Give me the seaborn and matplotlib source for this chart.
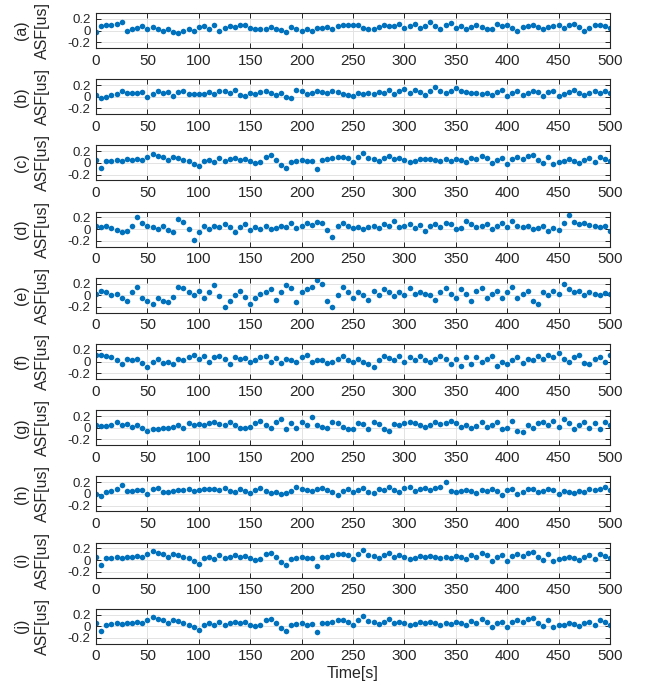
import numpy as np
import pandas as pd
import matplotlib
matplotlib.use("Agg")
import matplotlib.pyplot as plt
import seaborn as sns

# time axis, one reading every 5 s
time_s = list(range(0, 505, 5))

asf_a = [-0.02, 0.08, 0.10, 0.10, 0.12, 0.15, 0.00, 0.02, 0.05, 0.08,
         0.03, 0.06, 0.03, 0.00, 0.03, -0.03, -0.05, 0.00, 0.03, 0.00,
         0.06, 0.08, 0.03, 0.10, 0.00, 0.05, 0.07, 0.06, 0.10, 0.10,
         0.04, 0.02, 0.02, 0.03, 0.06, 0.03, 0.01, -0.02, 0.06, 0.02,
         0.00, 0.03, 0.00, 0.04, 0.04, 0.06, 0.03, 0.08, 0.10, 0.10,
         0.09, 0.09, 0.04, 0.03, 0.02, 0.06, 0.09, 0.07, 0.08, 0.12,
         0.05, 0.08, 0.12, 0.05, 0.08, 0.14, 0.07, 0.03, 0.09, 0.13,
         0.05, 0.07, 0.02, 0.06, 0.10, 0.06, 0.03, 0.02, 0.11, 0.08,
         0.10, 0.05, 0.00, 0.06, 0.07, 0.09, 0.06, 0.03, 0.06, 0.08,
         0.09, 0.05, 0.10, 0.12, 0.06, 0.00, 0.05, 0.09, 0.10, 0.07,
         0.05]

asf_b = [0.03, -0.03, 0.00, 0.03, 0.05, 0.10, 0.06, 0.06, 0.07, 0.08,
         0.00, 0.05, 0.10, 0.06, 0.08, 0.02, 0.08, 0.10, 0.05, 0.04,
         0.04, 0.05, 0.08, 0.04, 0.09, 0.10, 0.07, 0.12, 0.03, 0.02,
         0.06, 0.05, 0.08, 0.10, 0.06, 0.03, 0.07, 0.00, -0.02, 0.12,
         0.10, 0.05, 0.07, 0.10, 0.08, 0.07, 0.10, 0.08, 0.05, 0.03,
         0.02, 0.06, 0.05, 0.07, 0.04, 0.08, 0.06, 0.11, 0.05, 0.10,
         0.13, 0.06, 0.12, 0.08, 0.03, 0.10, 0.16, 0.10, 0.06, 0.09,
         0.15, 0.10, 0.08, 0.07, 0.06, 0.04, 0.07, 0.03, 0.08, 0.11,
         0.02, 0.06, 0.10, 0.03, 0.07, 0.10, 0.08, 0.02, 0.08, 0.10,
         0.02, 0.04, 0.08, 0.12, 0.07, 0.03, 0.07, 0.09, 0.06, 0.09,
         0.06]

asf_c = [0.05, -0.08, 0.03, 0.04, 0.05, 0.04, 0.06, 0.05, 0.07, 0.05,
         0.10, 0.16, 0.12, 0.10, 0.05, 0.10, 0.09, 0.05, 0.03, -0.02,
         -0.06, 0.03, 0.05, 0.02, 0.08, 0.03, 0.06, 0.08, 0.05, 0.07,
         0.03, 0.00, 0.02, 0.10, 0.13, 0.05, -0.03, -0.08, 0.02, 0.04,
         0.05, 0.03, 0.04, -0.10, 0.05, 0.06, 0.08, 0.10, 0.10, 0.08,
         0.02, 0.10, 0.17, 0.09, 0.07, 0.04, 0.08, 0.12, 0.06, 0.08,
         0.05, 0.02, 0.04, 0.07, 0.06, 0.07, 0.05, 0.03, 0.06, 0.04,
         0.07, 0.05, 0.02, 0.09, 0.06, 0.12, 0.08, -0.01, 0.05, 0.08,
         -0.02, 0.07, 0.10, 0.07, 0.12, 0.14, 0.05, 0.00, 0.10, -0.02,
         0.02, 0.03, 0.06, 0.04, 0.00, 0.05, 0.08, 0.02, 0.10, 0.07,
         0.03]

asf_d = [0.05, 0.03, 0.05, 0.02, -0.01, -0.05, -0.04, 0.05, 0.20, 0.10,
         0.05, 0.04, 0.00, 0.05, -0.02, -0.05, 0.18, 0.12, 0.00, -0.18,
         -0.05, 0.05, 0.00, 0.06, 0.03, 0.08, 0.04, -0.05, 0.03, 0.08,
         -0.02, 0.03, 0.00, 0.06, 0.00, 0.02, 0.05, 0.03, 0.10, 0.02,
         0.05, 0.10, 0.07, 0.12, 0.10, -0.02, -0.13, 0.05, 0.10, 0.05,
         0.02, 0.04, 0.00, 0.03, 0.05, 0.02, 0.08, 0.05, 0.14, 0.03,
         0.05, 0.09, 0.02, 0.07, -0.04, 0.05, 0.08, 0.04, 0.10, 0.08,
         0.00, 0.02, 0.14, 0.08, 0.04, 0.06, 0.09, 0.00, 0.05, 0.10,
         0.03, 0.14, 0.05, 0.04, 0.06, 0.00, 0.02, 0.05, -0.04, 0.02,
         -0.02, 0.10, 0.25, 0.12, 0.08, 0.10, 0.07, 0.05, 0.03, 0.06,
         -0.03]

asf_e = [0.03, 0.08, 0.05, 0.00, 0.03, -0.05, -0.10, 0.05, 0.15, -0.05,
         -0.10, -0.15, -0.05, -0.10, -0.12, -0.03, 0.15, 0.12, 0.05, 0.00,
         0.08, -0.05, 0.05, 0.18, -0.02, -0.20, -0.10, 0.00, 0.07, -0.03,
         -0.15, -0.05, 0.03, 0.06, 0.10, -0.08, 0.05, 0.18, 0.12, -0.12,
         0.05, 0.10, 0.15, 0.27, 0.20, -0.10, -0.20, 0.00, 0.15, 0.05,
         -0.05, 0.05, 0.00, -0.08, 0.08, 0.00, 0.10, 0.05, -0.02, 0.05,
         0.00, 0.12, 0.03, 0.05, 0.03, 0.00, -0.08, 0.05, 0.12, 0.02,
         -0.05, 0.10, 0.03, -0.10, 0.07, 0.12, -0.05, 0.03, 0.08, -0.05,
         0.05, 0.15, -0.05, 0.03, 0.08, -0.10, -0.15, 0.05, 0.00, 0.08,
         0.02, 0.20, 0.10, 0.05, 0.08, 0.00, 0.05, 0.03, 0.00, 0.04,
         0.02]

asf_f = [0.12, 0.12, 0.10, 0.08, 0.03, -0.05, 0.05, 0.02, 0.05, -0.02,
         -0.10, 0.00, 0.05, -0.03, 0.00, -0.05, 0.05, 0.03, 0.08, 0.12,
         0.05, 0.10, 0.00, 0.08, 0.10, 0.05, -0.05, 0.08, 0.05, 0.06,
         0.00, 0.03, 0.08, 0.10, 0.00, 0.06, -0.03, 0.05, 0.02, 0.00,
         0.08, 0.12, 0.00, 0.03, 0.02, -0.02, 0.00, 0.05, 0.10, 0.03,
         0.00, 0.05, 0.00, -0.05, -0.10, 0.03, 0.10, 0.06, 0.03, 0.10,
         0.00, 0.07, 0.03, 0.10, 0.03, 0.00, 0.05, 0.10, 0.04, -0.05,
         0.05, -0.08, 0.07, -0.05, 0.08, 0.00, 0.05, 0.10, -0.08, 0.00,
         -0.05, 0.03, 0.08, -0.02, 0.05, 0.03, 0.10, 0.05, 0.12, 0.08,
         0.15, 0.05, 0.00, 0.08, 0.12, -0.03, -0.05, 0.05, 0.08, 0.00,
         0.12]

asf_g = [0.05, 0.03, 0.03, 0.04, 0.10, 0.05, 0.06, 0.02, 0.05, 0.00,
         -0.06, -0.03, -0.02, 0.00, 0.00, 0.02, 0.05, 0.00, 0.08, 0.05,
         0.06, 0.05, 0.08, 0.10, 0.07, 0.05, 0.10, 0.04, 0.00, 0.00,
         0.02, 0.08, 0.12, 0.05, 0.00, 0.10, 0.15, -0.02, 0.08, 0.00,
         0.10, 0.05, 0.18, 0.05, 0.02, 0.00, 0.10, 0.08, 0.02, -0.03,
         -0.02, 0.08, 0.06, -0.02, 0.10, 0.06, -0.03, -0.06, 0.06, 0.04,
         0.08, 0.10, 0.08, 0.05, 0.02, 0.05, 0.10, 0.06, 0.08, 0.12,
         0.08, 0.02, 0.05, 0.00, 0.03, 0.10, 0.02, 0.05, 0.10, -0.02,
         0.00, 0.12, -0.05, -0.08, 0.05, 0.00, 0.08, 0.10, 0.05, 0.12,
         0.02, 0.15, 0.08, -0.02, 0.05, 0.10, 0.00, 0.08, -0.02, 0.10,
         0.05]

asf_h = [0.00, -0.03, 0.03, 0.05, 0.08, 0.15, 0.05, 0.05, 0.06, 0.07,
         0.00, 0.08, 0.10, 0.03, 0.04, 0.05, 0.07, 0.06, 0.08, 0.05,
         0.06, 0.09, 0.08, 0.09, 0.06, 0.10, 0.05, 0.04, 0.09, 0.05,
         0.02, 0.06, 0.10, 0.05, 0.02, 0.04, 0.00, 0.02, 0.05, 0.12,
         0.08, 0.06, 0.05, 0.08, 0.10, 0.06, 0.03, -0.02, 0.05, 0.08,
         0.04, 0.07, 0.10, 0.04, 0.02, 0.08, 0.06, 0.12, 0.07, 0.04,
         0.10, 0.12, 0.05, 0.08, 0.10, 0.06, 0.10, 0.12, 0.20, 0.05,
         0.04, 0.05, 0.06, 0.05, 0.02, 0.07, 0.05, 0.08, 0.05, -0.02,
         0.06, 0.08, 0.00, 0.04, 0.08, 0.08, 0.03, 0.05, 0.08, 0.07,
         0.00, 0.05, 0.03, 0.02, 0.05, 0.04, 0.08, 0.06, 0.08, 0.12,
         0.06]

# (i) and (j) look the same as (c) in the figure
asf_i = list(asf_c)
asf_j = list(asf_c)

panel_labels = ["(a)", "(b)", "(c)", "(d)", "(e)", "(f)", "(g)", "(h)", "(i)", "(j)"]
series = [asf_a, asf_b, asf_c, asf_d, asf_e, asf_f, asf_g, asf_h, asf_i, asf_j]
x_ticks = [0, 50, 100, 150, 200, 250, 300, 350, 400, 450, 500]
y_ticks = [-0.2, 0, 0.2]
y_tick_labels = ["-0.2", "0", "0.2"]

sns.set_theme(style="ticks")
plt.rcParams["font.family"] = ["Liberation Sans", "DejaVu Sans"]

W, H = 655, 690
fig = plt.figure(figsize=(W / 100, H / 100), dpi=100)

left, right = 96, 610
top0, pitch, ax_h = 13, 66.2, 35
blue = "#0072BD"
txt = "#262626"

for k, (lab, vals) in enumerate(zip(panel_labels, series)):
    top = top0 + pitch * k
    ax = fig.add_axes([left / W, 1 - (top + ax_h) / H, (right - left) / W, ax_h / H])
    df = pd.DataFrame({"t": time_s, "asf": vals})
    sns.scatterplot(data=df, x="t", y="asf", ax=ax, s=16, color=blue,
                    linewidth=0, edgecolor=None)
    ax.set_xlim(0, 500)
    ax.set_ylim(-0.3, 0.3)
    ax.set_xticks(x_ticks)
    ax.set_xticklabels([str(v) for v in x_ticks])
    ax.set_yticks(y_ticks)
    ax.set_yticklabels(y_tick_labels)
    ax.grid(True, color="#e3e3e3", linewidth=0.7)
    ax.set_axisbelow(True)
    ax.tick_params(direction="in", length=3.5, width=0.7, top=True, right=True,
                   colors=txt)
    ax.tick_params(axis="x", labelsize=11, pad=4)
    ax.tick_params(axis="y", labelsize=9.5, pad=4)
    for sp in ax.spines.values():
        sp.set_color(txt)
        sp.set_linewidth(0.8)
    ax.set_xlabel("")
    ax.set_ylabel(lab + "\nASF[us]", fontsize=11.5, color=txt, linespacing=1.5)
    ax.yaxis.set_label_coords((50 - left) / (right - left), 0.5)
    if k == len(series) - 1:
        ax.set_xlabel("Time[s]", fontsize=11.5, color=txt, labelpad=2)

fig.savefig("out.png", dpi=100)
